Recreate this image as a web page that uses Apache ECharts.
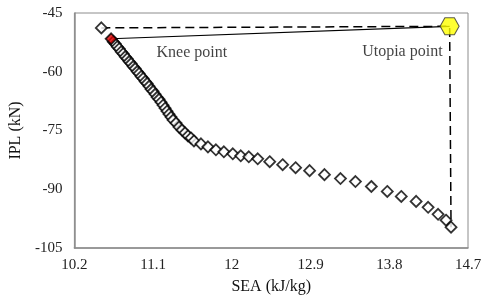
<!DOCTYPE html>
<html>
<head>
<meta charset="utf-8">
<style>
  html, body { margin: 0; padding: 0; background: #fff; }
  #main { width: 487px; height: 300px; }
</style>
<script src="https://cdn.jsdelivr.net/npm/echarts@6/dist/echarts.min.js"></script>
</head>
<body>
<div id="main"></div>
<script>
// pareto front points
var seaValues = [10.508, 10.62, 10.644, 10.667, 10.69, 10.713, 10.735, 10.758, 10.781, 10.804,
	10.826, 10.849, 10.872, 10.895, 10.918, 10.94, 10.963, 10.986, 11.009, 11.032,
	11.054, 11.077, 11.1, 11.123, 11.146, 11.168, 11.191, 11.214, 11.237, 11.259,
	11.282, 11.305, 11.328, 11.362, 11.396, 11.43, 11.465, 11.499, 11.533, 11.567,
	11.647, 11.727, 11.818, 11.909, 12.011, 12.102, 12.194, 12.296, 12.433, 12.581,
	12.729, 12.889, 13.059, 13.242, 13.413, 13.595, 13.777, 13.937, 14.107, 14.244,
	14.358, 14.449, 14.506];
var iplValues = [-48.8, -51.58, -52.34, -52.85, -53.61, -54.11, -54.87, -55.38, -56.14, -56.65,
	-57.41, -57.91, -58.67, -59.18, -59.94, -60.44, -61.2, -61.71, -62.47, -62.97,
	-63.73, -64.49, -65.0, -65.76, -66.52, -67.03, -67.78, -68.54, -69.3, -70.06,
	-70.82, -71.58, -72.34, -73.1, -74.11, -74.87, -75.63, -76.39, -76.9, -77.66,
	-78.42, -79.18, -79.94, -80.44, -80.95, -81.46, -81.71, -82.22, -82.97, -83.73,
	-84.49, -85.25, -86.27, -87.28, -88.04, -89.3, -90.57, -91.84, -93.1, -94.62,
	-96.39, -97.91, -99.68];
var kneeIndex = 1;
var utopiaPoint = [14.49, -48.4];
var xTicks = [10.2, 11.1, 12, 12.9, 13.8, 14.7];
var yTicks = [-105, -90, -75, -60, -45];

// x axis is shifted so ticks start at 10.2
var X0 = xTicks[0];
function pt(x, y) { return [x - X0, y]; }

var paretoData = [];
for (var i = 0; i < seaValues.length; i++) {
	if (i === kneeIndex) continue;
	paretoData.push(pt(seaValues[i], iplValues[i]));
}
var kneePt = pt(seaValues[kneeIndex], iplValues[kneeIndex]);
var firstPt = pt(seaValues[0], iplValues[0]);
var lastPt = pt(seaValues[seaValues.length - 1], iplValues[iplValues.length - 1]);
var utopiaPt = pt(utopiaPoint[0], utopiaPoint[1]);

var font = '"Liberation Serif", "DejaVu Serif", serif';

var chart = echarts.init(document.getElementById('main'));
var option = {
	animation: false,
	grid: {
		left: 73, right: 19, top: 13, bottom: 50,
		show: true,
		borderColor: '#8c8c8c',
		borderWidth: 1
	},
	xAxis: {
		type: 'value',
		min: 0,
		max: xTicks[xTicks.length - 1] - X0,
		interval: 0.9,
		name: 'SEA (kJ/kg)',
		nameLocation: 'middle',
		nameGap: 31,
		nameTextStyle: { fontFamily: font, fontSize: 16, color: '#111' },
		axisLine: { lineStyle: { color: '#8c8c8c', width: 1.5 } },
		axisTick: { show: false },
		splitLine: { show: false },
		axisLabel: {
			fontFamily: font, fontSize: 15, color: '#222', margin: 10,
			formatter: function (v) { return String(parseFloat((v + X0).toFixed(1))); }
		}
	},
	yAxis: {
		type: 'value',
		min: yTicks[0],
		max: yTicks[yTicks.length - 1],
		interval: 15,
		name: 'IPL (kN)',
		nameLocation: 'middle',
		nameGap: 49,
		nameTextStyle: { fontFamily: font, fontSize: 16, color: '#111' },
		axisLine: { lineStyle: { color: '#8c8c8c', width: 1.5 } },
		axisTick: { show: false },
		splitLine: { show: false },
		axisLabel: { fontFamily: font, fontSize: 15, color: '#222', margin: 12 }
	},
	series: [{
		// dashed box to utopia point
		type: 'line',
		data: [firstPt, utopiaPt, lastPt],
		symbol: 'none',
		lineStyle: { color: '#000', width: 1.5, type: [9, 5] },
		z: 1
	}, {
		// knee to utopia
		type: 'line',
		data: [kneePt, utopiaPt],
		symbol: 'none',
		lineStyle: { color: '#000', width: 1.2 },
		z: 1
	}, {
		type: 'scatter',
		data: paretoData,
		symbol: 'diamond',
		symbolSize: 11,
		itemStyle: { color: '#fff', borderColor: '#000', borderWidth: 1.8 },
		z: 3
	}, {
		type: 'scatter',
		data: [kneePt],
		symbol: 'diamond',
		symbolSize: 11,
		itemStyle: { color: '#e00000', borderColor: '#000', borderWidth: 1.8 },
		label: {
			show: true,
			position: 'right',
			offset: [34, 14],
			formatter: 'Knee point',
			fontFamily: font, fontSize: 16, color: '#111'
		},
		z: 4
	}, {
		type: 'scatter',
		data: [utopiaPt],
		symbol: 'path://M0,8.66 L5,0 L15,0 L20,8.66 L15,17.32 L5,17.32 Z',
		symbolSize: [19, 17],
		itemStyle: { color: '#ffff00', borderColor: '#333', borderWidth: 1 },
		label: {
			show: true,
			position: 'left',
			offset: [8, 25],
			formatter: 'Utopia point',
			fontFamily: font, fontSize: 16, color: '#111'
		},
		z: 4
	}]
};
chart.setOption(option);
window.addEventListener('resize', function () {
	chart.resize();
});
</script>
</body>
</html>
